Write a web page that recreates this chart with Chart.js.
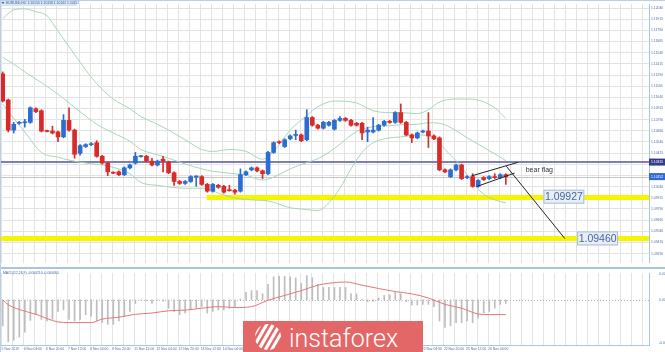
<!DOCTYPE html>
<html>
<head>
<meta charset="utf-8">
<script src="https://cdn.jsdelivr.net/npm/chart.js@4.4.1/dist/chart.umd.min.js"></script>
<style>
body{margin:0;background:#fff;width:665px;height:352px;overflow:hidden;position:relative}
#price{position:absolute;left:0;top:0}
#macd{position:absolute;left:0;top:269px}
.sep{position:absolute;left:0;top:267px;width:665px;height:2px;background:#a9c5e6}
.edgeTop{position:absolute;left:0;top:0;width:665px;height:1px;background:#b9d0ea}
.edgeLeft{position:absolute;left:0;top:0;width:1px;height:352px;background:#b9d0ea}
#wm{position:absolute;left:243px;top:321px;width:180px;height:31px;background:#e46767;overflow:hidden}
#wm span{position:absolute;left:46px;top:5px;color:#fff;font:300 25px Roboto,sans-serif;line-height:25px;white-space:nowrap}
#wm svg{position:absolute;left:9px;top:2px}
</style>
</head>
<body>
<canvas id="price" width="665" height="267"></canvas>
<canvas id="macd" width="665" height="83"></canvas>
<div class="sep"></div>
<div class="edgeTop"></div>
<div class="edgeLeft"></div>
<div id="wm">
  <svg width="32" height="28" viewBox="0 0 32 28">
    <defs><clipPath id="globe"><circle cx="16" cy="14" r="13"/></clipPath></defs>
    <g clip-path="url(#globe)" fill="#fff">
      <g transform="rotate(30 16 14)">
        <rect x="1.5" y="-6" width="3" height="40"/>
        <rect x="7" y="-6" width="3.2" height="40"/>
        <rect x="12.6" y="-6" width="3.4" height="40"/>
        <rect x="18.4" y="-6" width="3.2" height="40"/>
        <rect x="24" y="-6" width="3" height="40"/>
      </g>
    </g>
  </svg>
  <span>instaforex</span>
</div>
<script>
// EURUSD H4, 5 Nov - 26 Nov 2019
var dateLabels = ['5 Nov 2019', '6 Nov 04:00', '6 Nov 20:00', '7 Nov 12:00', '8 Nov 04:00', '8 Nov 20:00',
  '11 Nov 12:00', '12 Nov 04:00', '12 Nov 20:00', '13 Nov 12:00', '14 Nov 04:00', '14 Nov 20:00',
  '15 Nov 12:00', '18 Nov 04:00', '18 Nov 20:00', '19 Nov 12:00', '20 Nov 04:00', '20 Nov 20:00',
  '21 Nov 12:00', '22 Nov 04:00', '22 Nov 20:00', '25 Nov 12:00', '26 Nov 04:00'];

var opens = [1.11303, 1.11010, 1.10673, 1.10749, 1.10755, 1.10760, 1.10912, 1.10890, 1.10662, 1.10662,
  1.10652, 1.10597, 1.10782, 1.10673, 1.10413, 1.10489, 1.10510, 1.10532, 1.10380, 1.10304,
  1.10195, 1.10206, 1.10174, 1.10250, 1.10304, 1.10375, 1.10380, 1.10326, 1.10282, 1.10347,
  1.10315, 1.10195, 1.10098, 1.10076, 1.10098, 1.10147, 1.10152, 1.10065, 1.09989, 1.10054,
  1.10043, 1.10000, 1.10000, 1.09989, 1.10174, 1.10228, 1.10250, 1.10217, 1.10185, 1.10423,
  1.10543, 1.10489, 1.10576, 1.10614, 1.10619, 1.10565, 1.10814, 1.10728, 1.10695, 1.10728,
  1.10684, 1.10782, 1.10804, 1.10782, 1.10749, 1.10749, 1.10652, 1.10652, 1.10673, 1.10728,
  1.10771, 1.10760, 1.10869, 1.10760, 1.10619, 1.10586, 1.10652, 1.10662, 1.10608, 1.10586,
  1.10228, 1.10152, 1.10228, 1.10282, 1.10141, 1.10152, 1.10043, 1.10141, 1.10130, 1.10152,
  1.10141, 1.10174];
var highs = [1.11325, 1.11021, 1.10760, 1.10771, 1.10793, 1.10934, 1.10923, 1.10901, 1.10673, 1.10717,
  1.10662, 1.10847, 1.10923, 1.10684, 1.10510, 1.10521, 1.10532, 1.10554, 1.10391, 1.10315,
  1.10206, 1.10217, 1.10261, 1.10293, 1.10423, 1.10391, 1.10391, 1.10358, 1.10337, 1.10380,
  1.10326, 1.10206, 1.10109, 1.10109, 1.10163, 1.10163, 1.10163, 1.10076, 1.10076, 1.10065,
  1.10054, 1.10054, 1.10011, 1.10239, 1.10217, 1.10261, 1.10261, 1.10228, 1.10434, 1.10543,
  1.10554, 1.10576, 1.10619, 1.10673, 1.10630, 1.10901, 1.10825, 1.10738, 1.10771, 1.10771,
  1.10793, 1.10825, 1.10814, 1.10793, 1.10760, 1.10760, 1.10706, 1.10814, 1.10738, 1.10782,
  1.10782, 1.10880, 1.10966, 1.10771, 1.10630, 1.10652, 1.10673, 1.10869, 1.10619, 1.10597,
  1.10239, 1.10239, 1.10293, 1.10293, 1.10163, 1.10185, 1.10119, 1.10152, 1.10163, 1.10185,
  1.10185, 1.10185];
var lows = [1.10988, 1.10652, 1.10641, 1.10738, 1.10706, 1.10749, 1.10869, 1.10652, 1.10652, 1.10630,
  1.10543, 1.10586, 1.10662, 1.10358, 1.10391, 1.10478, 1.10499, 1.10369, 1.10293, 1.10163,
  1.10185, 1.10163, 1.10163, 1.10239, 1.10293, 1.10369, 1.10315, 1.10271, 1.10271, 1.10206,
  1.10185, 1.10054, 1.10065, 1.10065, 1.10087, 1.10043, 1.10054, 1.09978, 1.09978, 1.10022,
  1.09967, 1.09989, 1.09956, 1.09978, 1.10163, 1.10217, 1.10206, 1.10130, 1.10174, 1.10413,
  1.10521, 1.10478, 1.10565, 1.10565, 1.10543, 1.10554, 1.10717, 1.10684, 1.10684, 1.10717,
  1.10673, 1.10771, 1.10771, 1.10717, 1.10717, 1.10565, 1.10543, 1.10641, 1.10662, 1.10717,
  1.10749, 1.10749, 1.10749, 1.10608, 1.10532, 1.10576, 1.10641, 1.10478, 1.10565, 1.10217,
  1.10195, 1.10141, 1.10217, 1.10119, 1.10130, 1.10033, 1.10033, 1.10109, 1.10119, 1.10130,
  1.10130, 1.10065];
var closes = [1.10999, 1.10673, 1.10738, 1.10760, 1.10765, 1.10923, 1.10880, 1.10662, 1.10657, 1.10641,
  1.10597, 1.10782, 1.10673, 1.10402, 1.10499, 1.10510, 1.10521, 1.10380, 1.10304, 1.10206,
  1.10190, 1.10174, 1.10250, 1.10282, 1.10380, 1.10380, 1.10326, 1.10282, 1.10326, 1.10326,
  1.10195, 1.10098, 1.10076, 1.10098, 1.10152, 1.10152, 1.10065, 1.09989, 1.10065, 1.10033,
  1.09978, 1.09994, 1.09978, 1.10174, 1.10206, 1.10250, 1.10217, 1.10185, 1.10423, 1.10532,
  1.10532, 1.10565, 1.10608, 1.10619, 1.10554, 1.10814, 1.10728, 1.10695, 1.10760, 1.10760,
  1.10782, 1.10804, 1.10782, 1.10728, 1.10728, 1.10641, 1.10673, 1.10673, 1.10728, 1.10771,
  1.10760, 1.10869, 1.10760, 1.10619, 1.10586, 1.10641, 1.10662, 1.10608, 1.10576, 1.10228,
  1.10206, 1.10228, 1.10282, 1.10130, 1.10152, 1.10043, 1.10109, 1.10119, 1.10152, 1.10141,
  1.10174, 1.10152];

// Bollinger bands (bar index, price)
var upperBand = [[0, 1.11922], [2, 1.12020], [4, 1.12031], [6, 1.11998], [8, 1.11955], [10, 1.11781],
  [12, 1.11607], [14, 1.11433], [17, 1.11194], [20, 1.11021], [23, 1.10912], [25, 1.10825], [28, 1.10738],
  [30, 1.10673], [33, 1.10565], [36, 1.10456], [38, 1.10434], [41, 1.10456], [44, 1.10434], [47, 1.10347],
  [49, 1.10434], [52, 1.10673], [55, 1.10836], [57, 1.10934], [60, 1.10999], [64, 1.10977], [67, 1.10890],
  [70, 1.10869], [72, 1.10869], [75, 1.10858], [77, 1.10901], [79, 1.10988], [82, 1.11021], [84, 1.11021],
  [86, 1.11010], [89, 1.10923], [91, 1.10804]];
var middleBand = [[0, 1.11488], [2, 1.11412], [4, 1.11325], [7, 1.11205], [10, 1.11075], [12, 1.10977],
  [14, 1.10880], [17, 1.10738], [20, 1.10641], [23, 1.10548], [25, 1.10456], [28, 1.10396], [30, 1.10358],
  [33, 1.10293], [36, 1.10239], [38, 1.10212], [41, 1.10190], [44, 1.10168], [47, 1.10114], [49, 1.10147],
  [52, 1.10239], [55, 1.10309], [57, 1.10353], [60, 1.10467], [64, 1.10657], [67, 1.10711], [70, 1.10722],
  [72, 1.10733], [75, 1.10738], [77, 1.10755], [79, 1.10749], [82, 1.10668], [84, 1.10586], [86, 1.10516],
  [89, 1.10407], [91, 1.10331]];
var lowerBand = [[0, 1.10966], [2, 1.10804], [4, 1.10652], [7, 1.10423], [10, 1.10369], [12, 1.10337],
  [15, 1.10304], [19, 1.10271], [23, 1.10185], [25, 1.10087], [28, 1.10054], [33, 1.10022], [36, 1.10022],
  [40, 1.09946], [42, 1.09913], [45, 1.09891], [48, 1.09880], [52, 1.09804], [55, 1.09783], [57, 1.09772],
  [59, 1.09859], [61, 1.10022], [63, 1.10239], [65, 1.10423], [67, 1.10532], [70, 1.10586], [72, 1.10597],
  [75, 1.10619], [78, 1.10586], [80, 1.10456], [83, 1.10261], [85, 1.10076], [87, 1.09956], [89, 1.09891],
  [91, 1.09859]];

// MACD(12,26,9)
var macdHist = [-0.00081, -0.00131, -0.00126, -0.00116, -0.00101, -0.00064, -0.00046, -0.00061, -0.00066, -0.00061,
  -0.00036, -0.00031, -0.00061, -0.00066, -0.00061, -0.00046, -0.00051, -0.00066, -0.00071, -0.00076,
  -0.00076, -0.00066, -0.00051, -0.00036, -0.00011, -0.00001, -0.00002, -0.00011, -0.00001, -0.00004,
  -0.00026, -0.00036, -0.00046, -0.00041, -0.00031, -0.00026, -0.00021, -0.00041, -0.00036, -0.00031,
  -0.00031, -0.00026, -0.00021, 0.00003, 0.00024, 0.00029, 0.00029, 0.00019, 0.00049, 0.00072,
  0.00074, 0.00074, 0.00072, 0.00069, 0.00052, 0.00076, 0.00069, 0.00049, 0.00039, 0.00039,
  0.00039, 0.00039, 0.00039, 0.00019, 0.00019, 0.00001, -0.00005, -0.00005, 0.00006, 0.00014,
  0.00016, 0.00024, 0.00019, -0.00006, -0.00016, -0.00016, -0.00014, -0.00014, -0.00021, -0.00066,
  -0.00086, -0.00081, -0.00071, -0.00071, -0.00066, -0.00071, -0.00056, -0.00041, -0.00036, -0.00026,
  -0.00014, -0.00011];
var macdSignal = [[0, 0.00000], [1, -0.00015], [3, -0.00030], [6, -0.00045], [10, -0.00069], [12, -0.00071],
  [16, -0.00071], [18, -0.00060], [21, -0.00054], [24, -0.00045], [27, -0.00041], [30, -0.00034], [33, -0.00032],
  [36, -0.00026], [39, -0.00021], [42, -0.00024], [45, -0.00021], [48, -0.00001], [51, 0.00014], [54, 0.00029],
  [57, 0.00046], [59, 0.00052], [62, 0.00056], [65, 0.00046], [71, 0.00026], [74, 0.00019], [77, 0.00006],
  [80, -0.00014], [83, -0.00026], [86, -0.00044], [88, -0.00046], [91, -0.00046]];

var priceTicks = [1.12040, 1.11915, 1.11790, 1.11665, 1.11540, 1.11415, 1.11290, 1.11165, 1.11040, 1.10915,
  1.10790, 1.10665, 1.10540, 1.10415, 1.10290, 1.10165, 1.10040, 1.09915, 1.09790, 1.09665,
  1.09540, 1.09415, 1.09290];
var macdTicks = [0.00082, 0, -0.00134];

// drawn objects
var levelPrices = [1.10315, 1.10152, 1.09927, 1.09460];
var levelFrom = [-0.49, -0.49, 36.9, -0.49];
var axisBoxPrices = [1.10315, 1.10152];
var noteLabels = ['1.09927', '1.09460'];
var noteAt = [[97.8, 1.09927], [103.9, 1.09460]];
var flagUpper = [[84.8, 1.10160], [93.2, 1.10312]];
var flagLower = [[85.7, 1.10040], [92.6, 1.10192]];
var targetLine = [[91.1, 1.10268], [101.7, 1.09457]];
var flagTextAt = [94.6, 1.10230];

var X_MIN = -0.49, X_MAX = 116.9;
var BLUE = '#2b6dd0', RED = '#d92a2a', BAND = '#a6d6b4', GRID = '#e3e3e3', AXIS = '#a9c5e6', TICK = '#4f6ea3';
var levelStyles = [{c: '#7e7eb6', w: 2}, {c: '#c4c4c4', w: 1}, {c: '#f5f500', w: 5}, {c: '#f5f500', w: 5}];
var axisBoxColors = ['#343c86', '#2e69d4'];

var gridX = [];
for (var g = -0.2; g < X_MAX; g += 2) gridX.push(g);

function pts(arr) { return arr.map(function(p) { return {x: p[0], y: p[1]}; }); }
function candleColor(ctx) { var i = ctx.dataIndex; return closes[i] >= opens[i] ? BLUE : RED; }

var priceOverlay = {
  id: 'priceOverlay',
  beforeDatasetsDraw: function(chart) {
    var ctx = chart.ctx, a = chart.chartArea, x = chart.scales.x, y = chart.scales.y;
    ctx.save();
    ctx.beginPath(); ctx.rect(a.left, a.top, a.width, a.height); ctx.clip();
    levelPrices.forEach(function(p, i) {
      var st = levelStyles[i];
      var py = Math.round(y.getPixelForValue(p)) + (st.w % 2 ? 0.5 : 0);
      ctx.strokeStyle = st.c; ctx.lineWidth = st.w;
      ctx.beginPath(); ctx.moveTo(x.getPixelForValue(levelFrom[i]), py); ctx.lineTo(a.right, py); ctx.stroke();
    });
    ctx.restore();
  },
  afterDraw: function(chart) {
    var ctx = chart.ctx, a = chart.chartArea, x = chart.scales.x, y = chart.scales.y;
    ctx.save();
    ctx.textBaseline = 'middle';
    ctx.font = '3.4px "Liberation Sans"';
    axisBoxPrices.forEach(function(p, i) {
      var py = y.getPixelForValue(p);
      ctx.fillStyle = axisBoxColors[i];
      ctx.fillRect(a.right, py - 3.5, 16, 7);
      ctx.fillStyle = '#fff';
      ctx.fillText(p.toFixed(5), a.right + 2, py);
    });
    ctx.font = '10.5px "Liberation Sans"';
    noteLabels.forEach(function(t, i) {
      var px = x.getPixelForValue(noteAt[i][0]), py = y.getPixelForValue(noteAt[i][1]);
      var w = ctx.measureText(t).width + 3;
      ctx.fillStyle = '#e7eef7'; ctx.fillRect(px, py - 7, w, 14);
      ctx.strokeStyle = '#a7bbd6'; ctx.lineWidth = 1; ctx.strokeRect(px + 0.5, py - 6.5, w - 1, 13);
      ctx.fillStyle = '#46659b'; ctx.fillText(t, px + 1.5, py + 0.5);
    });
    ctx.font = '7px "Liberation Sans"'; ctx.fillStyle = '#333';
    ctx.fillText('bear flag', x.getPixelForValue(flagTextAt[0]), y.getPixelForValue(flagTextAt[1]));
    // window title
    ctx.fillStyle = '#d9e5f3'; ctx.fillRect(0, 0, 77, 6);
    ctx.fillStyle = '#3b5f99';
    ctx.beginPath(); ctx.moveTo(1.5, 2); ctx.lineTo(4.5, 2); ctx.lineTo(3, 4); ctx.closePath(); ctx.fill();
    ctx.font = '3.4px "Liberation Sans"';
    ctx.fillText('EURUSD,H4  1.10150 1.10158 1.10142 1.10152', 6, 3.2);
    ctx.restore();
  }
};

new Chart(document.getElementById('price'), {
  type: 'bar',
  data: {
    datasets: [
      {type: 'line', data: pts(upperBand), borderColor: BAND, borderWidth: 1, pointRadius: 0, cubicInterpolationMode: 'monotone', order: 3},
      {type: 'line', data: pts(middleBand), borderColor: BAND, borderWidth: 1, pointRadius: 0, cubicInterpolationMode: 'monotone', order: 3},
      {type: 'line', data: pts(lowerBand), borderColor: BAND, borderWidth: 1, pointRadius: 0, cubicInterpolationMode: 'monotone', order: 3},
      {data: opens.map(function(o, i) { return {x: i, y: [lows[i], highs[i]]}; }),
        backgroundColor: candleColor, barThickness: 1, grouped: false, order: 2},
      {data: opens.map(function(o, i) { return {x: i, y: [o, closes[i]]}; }),
        backgroundColor: candleColor, barThickness: 4, minBarLength: 1, grouped: false, order: 1},
      {type: 'line', data: pts(flagUpper), borderColor: '#222', borderWidth: 1, pointRadius: 0, order: 0},
      {type: 'line', data: pts(flagLower), borderColor: '#222', borderWidth: 1, pointRadius: 0, order: 0},
      {type: 'line', data: pts(targetLine), borderColor: '#222', borderWidth: 1, pointRadius: 0, order: 0}
    ]
  },
  options: {
    responsive: false,
    animation: false,
    devicePixelRatio: 1,
    layout: {padding: 0},
    plugins: {legend: {display: false}, tooltip: {enabled: false}},
    scales: {
      x: {
        type: 'linear', min: X_MIN, max: X_MAX, offset: false,
        grid: {color: GRID, offset: false, drawTicks: false},
        border: {display: false},
        ticks: {display: false},
        afterBuildTicks: function(s) { s.ticks = gridX.map(function(v) { return {value: v}; }); },
        afterFit: function(s) { s.height = 0; }
      },
      y: {
        position: 'right', min: 1.09185, max: 1.12085,
        grid: {color: GRID, drawTicks: false},
        border: {color: AXIS},
        ticks: {font: {size: 3.4, family: 'Liberation Sans'}, color: TICK, padding: 2, autoSkip: false,
          callback: function(v) { return v.toFixed(5); }},
        afterBuildTicks: function(s) { s.ticks = priceTicks.map(function(v) { return {value: v}; }); },
        afterFit: function(s) { s.width = 16; }
      }
    }
  },
  plugins: [priceOverlay]
});

var macdOverlay = {
  id: 'macdOverlay',
  beforeDatasetsDraw: function(chart) {
    var ctx = chart.ctx, a = chart.chartArea, y = chart.scales.y;
    var py = Math.round(y.getPixelForValue(0)) + 0.5;
    ctx.save();
    ctx.strokeStyle = '#b5b5b5'; ctx.lineWidth = 1; ctx.setLineDash([1, 2]);
    ctx.beginPath(); ctx.moveTo(a.left, py); ctx.lineTo(a.right, py); ctx.stroke();
    ctx.restore();
  },
  afterDraw: function(chart) {
    var ctx = chart.ctx;
    ctx.save();
    ctx.font = '3.4px "Liberation Sans"'; ctx.fillStyle = '#3b5f99'; ctx.textBaseline = 'middle';
    ctx.fillText('MACD(12,26,9) -0.000110 -0.000460', 3, 4);
    ctx.restore();
  }
};

new Chart(document.getElementById('macd'), {
  type: 'bar',
  data: {
    datasets: [
      {data: macdHist.map(function(v, i) { return {x: i, y: v}; }), backgroundColor: '#bdbdbd', barThickness: 1, order: 2},
      {type: 'line', data: pts(macdSignal), borderColor: '#e47777', borderWidth: 1, pointRadius: 0, cubicInterpolationMode: 'monotone', order: 1}
    ]
  },
  options: {
    responsive: false,
    animation: false,
    devicePixelRatio: 1,
    layout: {padding: {top: 1, left: 0, right: 0, bottom: 0}},
    plugins: {legend: {display: false}, tooltip: {enabled: false}},
    scales: {
      x: {
        type: 'linear', min: X_MIN, max: X_MAX, offset: false,
        grid: {color: GRID, offset: false, tickLength: 1,
          tickColor: function(c) { return c.index % 2 ? 'rgba(0,0,0,0)' : '#8aa3c6'; }},
        border: {color: AXIS},
        ticks: {font: {size: 3.4, family: 'Liberation Sans'}, color: TICK, padding: 1, align: 'start',
          autoSkip: false, maxRotation: 0,
          callback: function(v, i) { return i % 2 ? '' : (dateLabels[i / 2] || ''); }},
        afterBuildTicks: function(s) { s.ticks = gridX.map(function(v) { return {value: v}; }); },
        afterFit: function(s) { s.height = 7; }
      },
      y: {
        position: 'right', min: -0.00141, max: 0.00084,
        grid: {display: false},
        border: {color: AXIS},
        ticks: {font: {size: 3.4, family: 'Liberation Sans'}, color: TICK, padding: 2, autoSkip: false,
          callback: function(v) { return v === 0 ? '0.00' : v.toFixed(6); }},
        afterBuildTicks: function(s) { s.ticks = macdTicks.map(function(v) { return {value: v}; }); },
        afterFit: function(s) { s.width = 16; }
      }
    }
  },
  plugins: [macdOverlay]
});
</script>
</body>
</html>
